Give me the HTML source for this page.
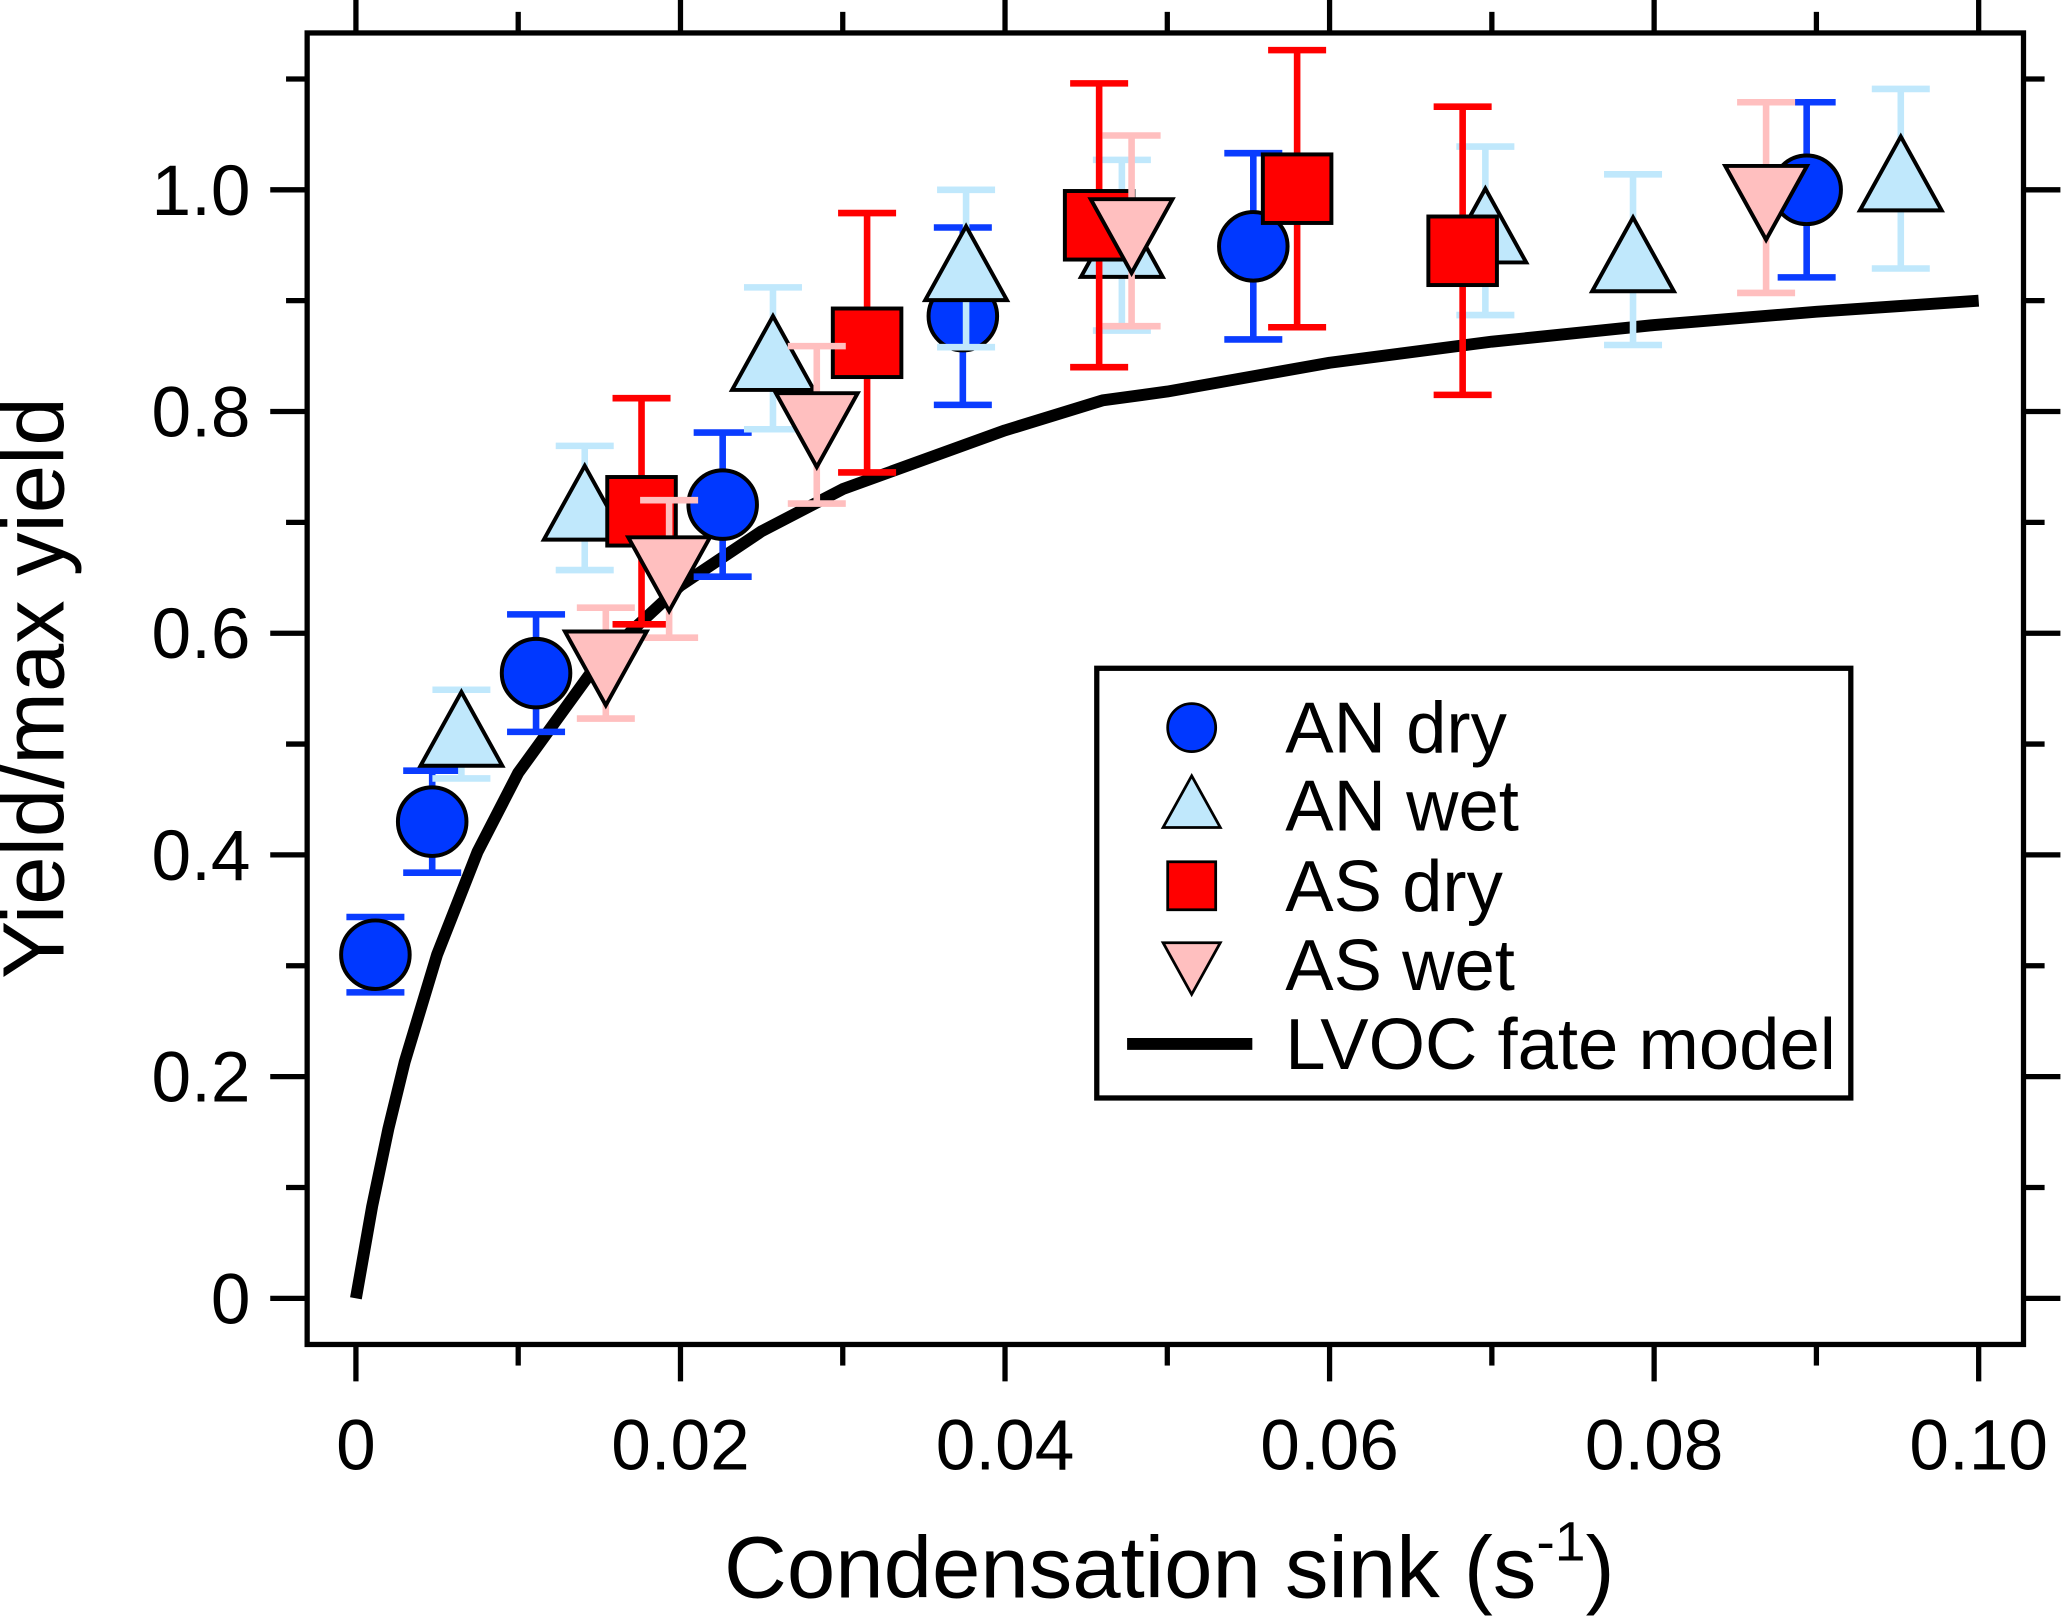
<!DOCTYPE html>
<html><head><meta charset="utf-8"><style>
html,body{margin:0;padding:0;background:#fff}
svg{display:block}
text{font-family:"Liberation Sans",Arial,sans-serif;fill:#000}
</style></head><body>
<svg id="chart" width="2067" height="1616" viewBox="0 0 1568 1226" preserveAspectRatio="none" xmlns="http://www.w3.org/2000/svg">
<g id="axes"></g>
<g id="curve"></g>
<g id="marks"></g>
<g id="legend"></g>
</svg>
<script>
const xTicks=[0,0.02,0.04,0.06,0.08,0.10];
const xTickLabels=["0","0.02","0.04","0.06","0.08","0.10"];
const yTicks=[0,0.2,0.4,0.6,0.8,1.0];
const yTickLabels=["0","0.2","0.4","0.6","0.8","1.0"];
const anDryX=[0.0012,0.0047,0.0111,0.0226,0.0374,0.0553,0.0894];
const anDryY=[0.310,0.430,0.564,0.716,0.886,0.949,1.000];
const anDryE=[0.034,0.046,0.053,0.065,0.080,0.084,0.079];
const anWetX=[0.0065,0.0141,0.0257,0.0376,0.0472,0.0696,0.0787,0.0952];
const anWetY=[0.509,0.713,0.848,0.929,0.950,0.963,0.937,1.010];
const anWetE=[0.040,0.056,0.064,0.071,0.077,0.076,0.077,0.081];
const asDryX=[0.0176,0.0315,0.0458,0.0580,0.0682];
const asDryY=[0.710,0.862,0.968,1.001,0.945];
const asDryE=[0.102,0.117,0.128,0.125,0.130];
const asWetX=[0.0154,0.0193,0.0284,0.0478,0.0869];
const asWetY=[0.573,0.658,0.788,0.963,0.993];
const asWetE=[0.050,0.062,0.071,0.086,0.086];
const modelX=[0,0.001,0.002,0.003,0.005,0.0075,0.01,0.015,0.02,0.025,0.03,0.04,0.046,0.05,0.06,0.07,0.08,0.09,0.1];
const modelY=[0,0.083,0.153,0.213,0.31,0.403,0.474,0.575,0.643,0.692,0.73,0.783,0.81,0.818,0.844,0.863,0.878,0.89,0.9];

const NS="http://www.w3.org/2000/svg";
const L=233,R=1535,T=25,B=1020;
const sx=v=>270+v*12310;
const sy=v=>985-v*841;
function mk(tag,attrs,parent){const e=document.createElementNS(NS,tag);for(const k in attrs)e.setAttribute(k,attrs[k]);parent.appendChild(e);return e;}
const axes=document.getElementById('axes');
let fr=mk('rect',{x:L,y:T,width:R-L,height:B-T,fill:'none',stroke:'#000','stroke-width':4},axes);


for(let i=0;i<=10;i++){
  const v=i*0.01,x=sx(v),maj=i%2===0,len=maj?28:16;
  let t1=mk('line',{x1:x,x2:x,y1:B,y2:B+len,stroke:'#000','stroke-width':4},axes);
  
  
  let t2=mk('line',{x1:x,x2:x,y1:T,y2:T-len,stroke:'#000','stroke-width':4},axes);
  
  
}
xTicks.forEach((v,i)=>{
  let t=mk('text',{x:sx(v),y:1115,'font-size':54,'text-anchor':'middle'},axes);
  t.textContent=xTickLabels[i];
  
  
});
for(let i=0;i<=11;i++){
  const v=i*0.1,y=sy(v),maj=i%2===0,len=maj?28:16;
  let t1=mk('line',{x1:L,x2:L-len,y1:y,y2:y,stroke:'#000','stroke-width':4},axes);
  
  
  let t2=mk('line',{x1:R,x2:R+len,y1:y,y2:y,stroke:'#000','stroke-width':4},axes);
  
  
}
yTicks.forEach((v,i)=>{
  let t=mk('text',{x:190,y:sy(v)+19,'font-size':54,'text-anchor':'end'},axes);
  t.textContent=yTickLabels[i];
  
  
});
let xt=mk('text',{x:887,y:1212,'font-size':66,'text-anchor':'middle'},axes);
xt.innerHTML='Condensation sink (s<tspan dy="-28" font-size="42">-1</tspan><tspan dy="28">)</tspan>';


let yt=mk('text',{x:0,y:0,'font-size':66,'text-anchor':'middle',transform:'translate(48,522) rotate(-90)'},axes);
yt.textContent='Yield/max yield';



const curve=document.getElementById('curve');
let pl=mk('polyline',{points:modelX.map((x,i)=>sx(x)+','+sy(modelY[i])).join(' '),fill:'none',stroke:'#000','stroke-width':9,'stroke-linejoin':'round'},curve);



const marks=document.getElementById('marks');
function marker(shape,cx,cy,fill,parent){
  let e;
  if(shape==='circle')e=mk('circle',{cx:cx,cy:cy,r:26,fill:fill,stroke:'#000','stroke-width':3},parent);
  else if(shape==='square')e=mk('rect',{x:cx-26,y:cy-26,width:52,height:52,fill:fill,stroke:'#000','stroke-width':3},parent);
  else if(shape==='up')e=mk('polygon',{points:`${cx},${cy-32} ${cx+31},${cy+24} ${cx-31},${cy+24}`,fill:fill,stroke:'#000','stroke-width':3},parent);
  else e=mk('polygon',{points:`${cx},${cy+32} ${cx+31},${cy-24} ${cx-31},${cy-24}`,fill:fill,stroke:'#000','stroke-width':3},parent);
  return e;
}
function series(name,X,Y,E,shape,fill,ecol){
  const g=mk('g',{},marks);
  
  
  X.forEach((x,i)=>{
    const cx=sx(x),y1=sy(Y[i]+E[i]),y2=sy(Y[i]-E[i]);
    const eb=mk('path',{d:`M${cx},${y1}V${y2}M${cx-22},${y1}H${cx+22}M${cx-22},${y2}H${cx+22}`,stroke:ecol,'stroke-width':5,fill:'none'},g);
    
    
  });
  X.forEach((x,i)=>{
    const m=marker(shape,sx(x),sy(Y[i]),fill,g);
    
    
  });
}
series('an-dry',anDryX,anDryY,anDryE,'circle','#0038ff','#0a3cff');
series('an-wet',anWetX,anWetY,anWetE,'up','#c0e8fc','#c0e8fc');
series('as-dry',asDryX,asDryY,asDryE,'square','#ff0000','#ff0000');
series('as-wet',asWetX,asWetY,asWetE,'down','#ffbfbf','#ffbfbf');

const lg=document.getElementById('legend');
let lb=mk('rect',{x:832,y:507,width:572,height:326,fill:'#fff',stroke:'#000','stroke-width':4},lg);


const entries=[['AN dry','circle','#0038ff',552],['AN wet','up','#c0e8fc',611],['AS dry','square','#ff0000',672],['AS wet','down','#ffbfbf',732]];
entries.forEach(e=>{
  const g=mk('g',{},lg);
  
  
  const m=marker(e[1],904,e[3],e[2],g);
  m.setAttribute('transform',`translate(904 ${e[3]}) scale(0.7) translate(-904 ${-e[3]})`);
  
  
  const t=mk('text',{x:975,y:e[3]+19,'font-size':55},g);
  t.textContent=e[0];
  
  
});
const g5=mk('g',{},lg);


let ll=mk('line',{x1:855,x2:950,y1:792,y2:792,stroke:'#000','stroke-width':9},g5);


let lt=mk('text',{x:975,y:811,'font-size':55},g5);
lt.textContent='LVOC fate model';


</script>
</body></html>
